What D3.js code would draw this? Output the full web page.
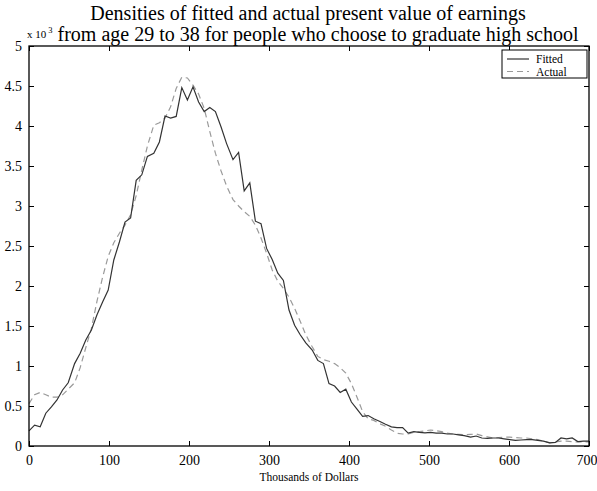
<!DOCTYPE html>
<html><head><meta charset="utf-8">
<script src="https://cdn.jsdelivr.net/npm/d3@7"></script>
<style>body{margin:0;background:#fff}svg{display:block;font-family:"Liberation Serif","Times New Roman",serif}</style>
</head><body><svg id="c" width="597" height="491"></svg>
<script>
// x grid in thousands of dollars
const xValues = [0,7,14,21,28,35,42,49,57,64,71,78,85,92,99,106,113,120,127,134,
141,148,156,163,170,177,184,191,198,205,212,219,226,233,240,247,255,262,269,276,
283,290,297,304,311,318,325,332,339,346,354,361,368,375,382,389,396,403,410,417,
424,431,438,445,453,460,467,474,481,488,495,502,509,516,523,530,537,544,552,559,
566,573,580,587,594,601,608,615,622,629,636,643,651,658,665,672,679,686,693,700];
// densities, units of 10^-3
const fitted = [0.19,0.26,0.24,0.41,0.49,0.575,0.70,0.79,1.03,1.16,
1.325,1.45,1.64,1.80,1.95,2.325,2.55,2.80,2.85,3.32,
3.39,3.62,3.66,3.80,4.125,4.10,4.12,4.48,4.325,4.49,
4.30,4.18,4.23,4.18,3.99,3.78,3.58,3.67,3.19,3.29,
2.81,2.78,2.47,2.33,2.16,2.07,1.70,1.51,1.39,1.29,
1.20,1.07,1.03,0.78,0.75,0.67,0.71,0.55,0.46,0.37,
0.38,0.34,0.31,0.275,0.24,0.23,0.23,0.16,0.18,0.17,
0.165,0.17,0.16,0.16,0.15,0.15,0.14,0.13,0.11,0.125,
0.10,0.095,0.10,0.10,0.09,0.08,0.07,0.075,0.08,0.08,
0.07,0.06,0.04,0.045,0.10,0.09,0.10,0.055,0.06,0.06];
const actual = [0.53,0.64,0.67,0.64,0.61,0.61,0.64,0.71,0.79,0.98,
1.23,1.47,1.81,2.11,2.37,2.54,2.66,2.76,2.89,3.13,
3.45,3.75,4.01,4.04,4.10,4.24,4.47,4.61,4.60,4.51,
4.40,4.22,3.93,3.66,3.44,3.25,3.08,3.00,2.93,2.87,
2.76,2.60,2.41,2.20,2.06,1.97,1.86,1.72,1.56,1.39,
1.24,1.12,1.08,1.06,1.03,0.98,0.91,0.78,0.61,0.43,
0.34,0.32,0.28,0.25,0.20,0.16,0.15,0.15,0.17,0.18,
0.19,0.20,0.19,0.18,0.16,0.15,0.145,0.14,0.145,0.15,
0.13,0.115,0.10,0.105,0.11,0.11,0.105,0.10,0.10,0.09,
0.08,0.06,0.04,0.05,0.06,0.06,0.055,0.05,0.05,0.05];
const xTicks = [0,100,200,300,400,500,600,700];
const yTicks = [0,0.5,1,1.5,2,2.5,3,3.5,4,4.5,5];
const titleLines = ["Densities of fitted and actual present value of earnings",
  "from age 29 to 38 for people who choose to graduate high school"];
const xLabel = "Thousands of Dollars";
const seriesNames = ["Fitted","Actual"];

const svg = d3.select("#c");
const L=29, R=589, T=46, B=446;
const x = d3.scaleLinear().domain([0,700]).range([L,R]);
const y = d3.scaleLinear().domain([0,5]).range([B,T]);

const line = d3.line().x((d,i)=>x(xValues[i])).y(d=>y(d));
svg.append("path").datum(actual).attr("d",line).attr("fill","none")
  .attr("stroke","#9a9a9a").attr("stroke-width",1.2).attr("stroke-dasharray","6,4");
svg.append("path").datum(fitted).attr("d",line).attr("fill","none")
  .attr("stroke","#333").attr("stroke-width",1.2);

// axes with inward ticks
const fmt = d=>String(d);
const gx = svg.append("g").attr("transform",`translate(0,${B})`)
  .call(d3.axisBottom(x).tickValues(xTicks).tickFormat(fmt).tickSizeInner(-5).tickSizeOuter(0).tickPadding(9));
svg.append("g").attr("transform",`translate(0,${T})`)
  .call(d3.axisTop(x).tickValues(xTicks).tickFormat("").tickSizeInner(-5).tickSizeOuter(0));
svg.append("g").attr("transform",`translate(${L},0)`)
  .call(d3.axisLeft(y).tickValues(yTicks).tickFormat(fmt).tickSizeInner(-5).tickSizeOuter(0).tickPadding(7));
svg.append("g").attr("transform",`translate(${R},0)`)
  .call(d3.axisRight(y).tickValues(yTicks).tickFormat("").tickSizeInner(-5).tickSizeOuter(0));
svg.selectAll(".domain").remove();
svg.selectAll(".tick line").attr("stroke","#000");
svg.selectAll(".tick text").attr("font-family","Liberation Serif").attr("font-size",14).attr("fill","#000");
// keep the last x label inside the page
gx.selectAll(".tick text").filter(d=>d===700).attr("text-anchor","end").attr("dx",8);
svg.append("rect").attr("x",L).attr("y",T).attr("width",R-L).attr("height",B-T)
  .attr("fill","none").attr("stroke","#000").attr("stroke-width",1.3);

// titles
svg.append("text").attr("x",308).attr("y",20).attr("text-anchor","middle").attr("font-size",20).text(titleLines[0]);
svg.append("text").attr("x",318).attr("y",41).attr("text-anchor","middle").attr("font-size",20).text(titleLines[1]);
const ex = svg.append("text").attr("x",27).attr("y",38).attr("font-size",11);
ex.append("tspan").text("x 10");
ex.append("tspan").attr("dy",-5).attr("dx",2).attr("font-size",8.5).text("3");
svg.append("text").attr("x",309).attr("y",481).attr("text-anchor","middle").attr("font-size",11.5).text(xLabel);

// legend
const lg = svg.append("g");
lg.append("rect").attr("x",502).attr("y",50).attr("width",85).attr("height",28)
  .attr("fill","#fff").attr("stroke","#000").attr("stroke-width",1);
const styles=[{c:"#333",d:null},{c:"#9a9a9a",d:"6,4"}];
seriesNames.forEach((n,i)=>{
  const yy=59+i*12.5;
  lg.append("line").attr("x1",507).attr("x2",529).attr("y1",yy).attr("y2",yy)
    .attr("stroke",styles[i].c).attr("stroke-width",1.2).attr("stroke-dasharray",styles[i].d);
  lg.append("text").attr("x",536).attr("y",yy+4).attr("font-size",11.5).text(n);
});
</script></body></html>
